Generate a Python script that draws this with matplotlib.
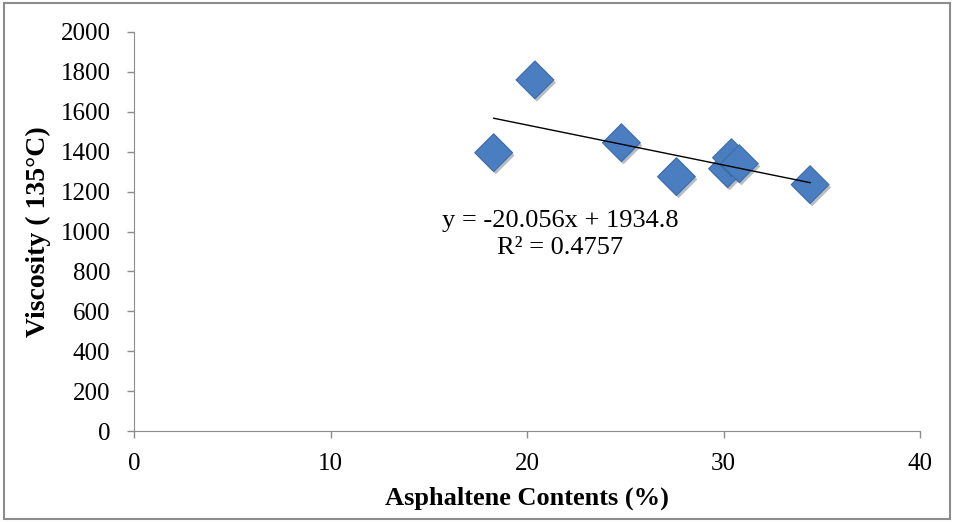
import numpy as np
import matplotlib
matplotlib.use("Agg")
import matplotlib.pyplot as plt
import matplotlib.patheffects as pe
from matplotlib.patches import Rectangle

# ---------- data ----------
asphaltene = [18.3, 20.4, 24.8, 27.6, 30.2, 30.4, 30.8, 34.4]
viscosity = [1395, 1760, 1445, 1275, 1315, 1370, 1340, 1235]

slope = -20.056
intercept = 1934.8
r2 = 0.4757

x_ticks = [0, 10, 20, 30, 40]
y_ticks = [0, 200, 400, 600, 800, 1000, 1200, 1400, 1600, 1800, 2000]

plt.rcParams['font.family'] = ['Liberation Serif', 'DejaVu Serif']

fig = plt.figure(figsize=(9.54, 5.22), dpi=100)
ax = fig.add_axes([0.1405, 0.1743, 0.824, 0.7644])

# frame around the whole chart
fig.add_artist(Rectangle((0.004, 0.006), 0.992, 0.988, transform=fig.transFigure,
                         fill=False, edgecolor='#8c8c8c', linewidth=1.5))

ax.scatter(asphaltene, viscosity, marker='D', s=370, color='#4a7ec0',
           edgecolors='#3d6ba8', linewidths=0.8, zorder=3,
           path_effects=[pe.SimplePatchShadow(offset=(1.5, -2), alpha=0.3),
                         pe.Normal()])

# linear trendline over the data range
xt = np.array([min(asphaltene), max(asphaltene)])
ax.plot(xt, slope * xt + intercept, color='black', linewidth=1.0, zorder=4)

ax.text(21.7, 985, f"y = {slope}x + {intercept}\nR² = {r2}", ha='center',
        va='center', multialignment='center', fontsize=19, linespacing=1.25)

ax.set_xlim(0, 40)
ax.set_ylim(0, 2000)
ax.set_xticks(x_ticks)
ax.set_yticks(y_ticks)
ax.tick_params(axis='both', labelsize=18, color='#8c8c8c', length=5,
               direction='out', width=1)
ax.tick_params(axis='y', pad=12)
ax.tick_params(axis='x', pad=11)
for side in ['top', 'right']:
    ax.spines[side].set_visible(False)
for side in ['left', 'bottom']:
    ax.spines[side].set_color('#8c8c8c')

ax.set_xlabel("Asphaltene Contents (%)", fontsize=19, fontweight='bold')
ax.set_ylabel("Viscosity ( 135°C)", fontsize=20, fontweight='bold')
ax.xaxis.set_label_coords(0.5, -0.14)
ax.yaxis.set_label_coords(-0.105, 0.5)

fig.savefig("out.png", dpi=100)
